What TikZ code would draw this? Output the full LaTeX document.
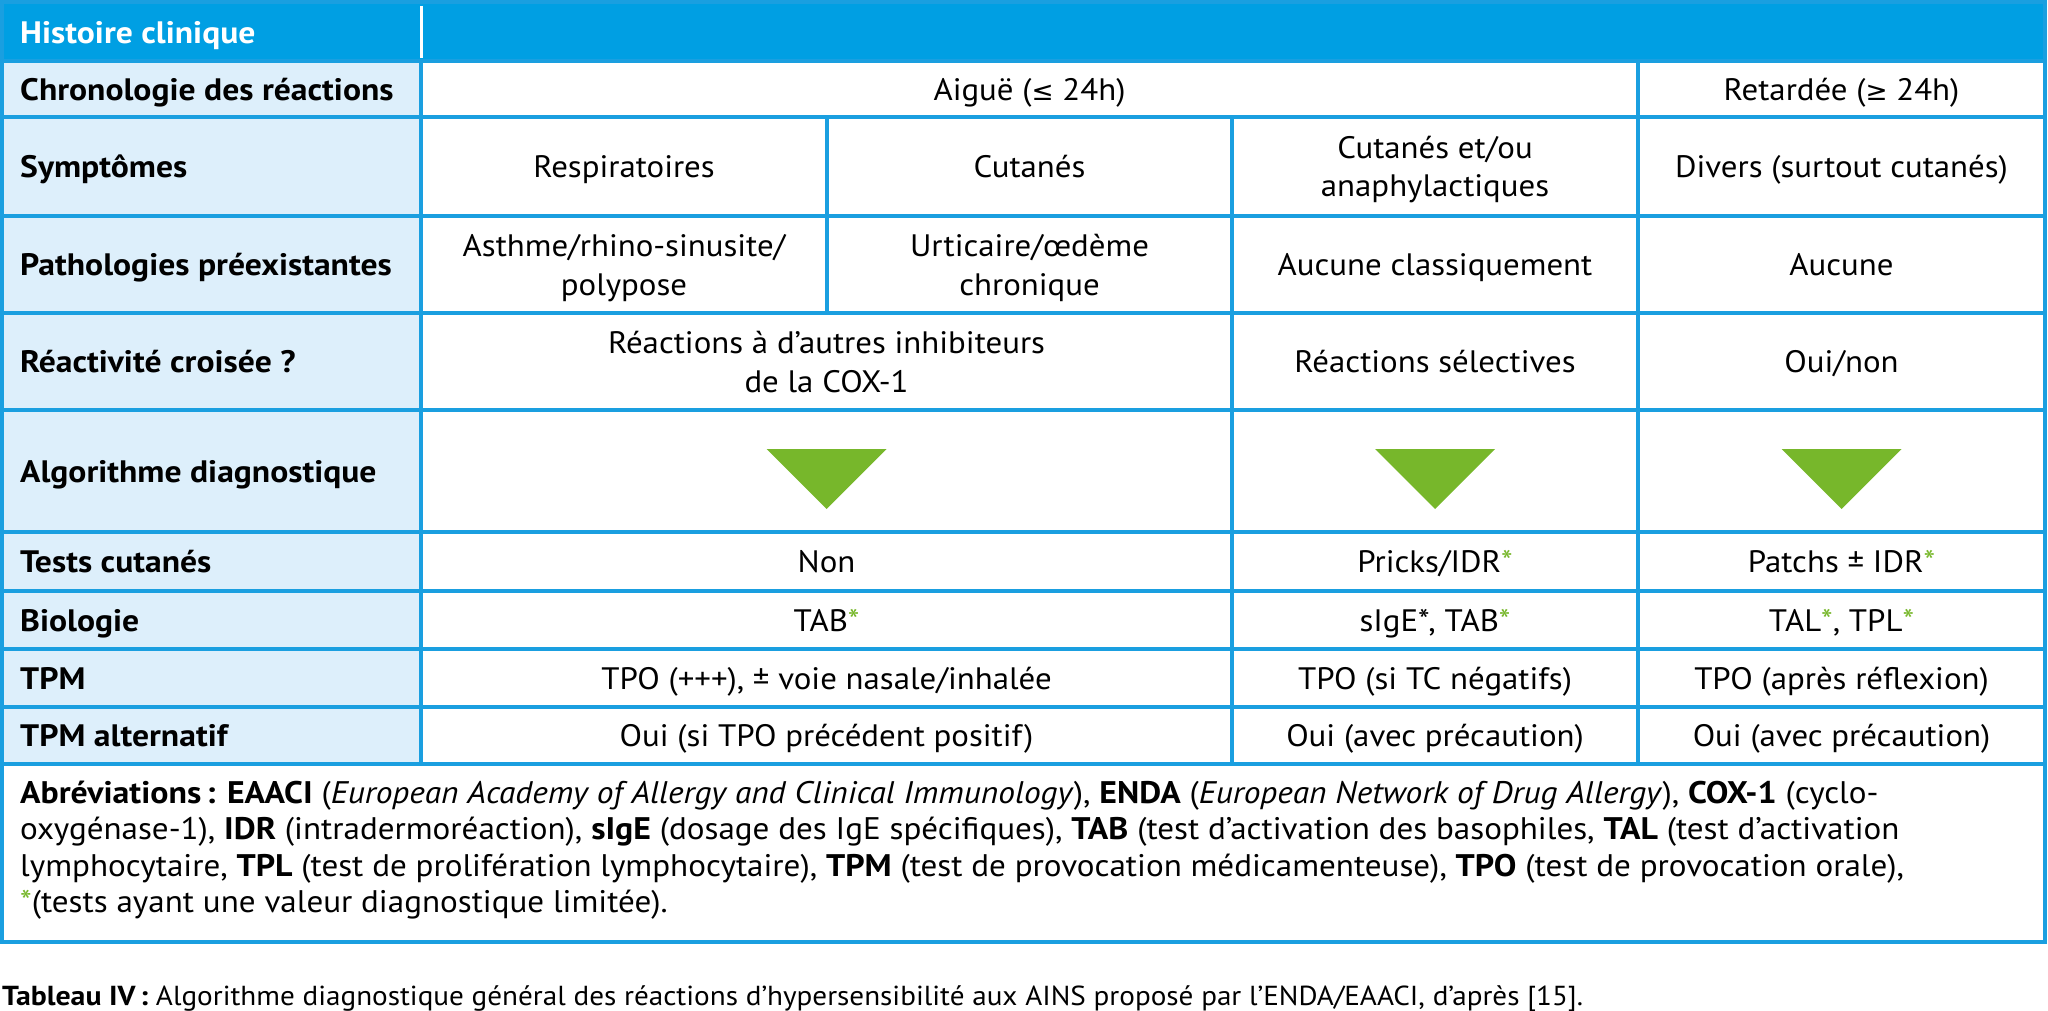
\documentclass[tikz,border=0pt]{standalone}
\usepackage{graphicx}
\usepackage{fontspec}
\setmainfont{PT Sans}[UprightFeatures={FakeStretch=1.06}, ItalicFeatures={FakeStretch=1.07}, BoldFeatures={FakeStretch=1.085}]
\newfontfamily\symf{DejaVu Sans}[Scale=0.85]
\definecolor{hdr}{HTML}{009FE3}
\definecolor{lbl}{HTML}{DDEFFB}
\definecolor{gridc}{HTML}{1A9FE0}
\definecolor{grn}{HTML}{77B72B}
\newcommand\mystrut{\rule[-8pt]{0pt}{38pt}}
\newcommand\gs{\textcolor{grn}{*}}
\tikzset{
  cell/.style={align=center, inner sep=0pt, anchor=center, font=\fontsize{31}{39}\selectfont},
  lab/.style={anchor=west, inner sep=0pt, font=\fontsize{31}{39}\selectfont\bfseries},
  gline/.style={draw=gridc, line width=3.5pt},
  tri/.style={fill=grn},
  abbr/.style={anchor=base west, inner sep=0pt, font=\fontsize{31.2}{36}\selectfont},
}
\begin{document}
\begin{tikzpicture}[x=1pt,y=-1pt]
\useasboundingbox (0,0) rectangle (2048,1011);
% column and row positions
\def\La{2}\def\Lb{421}\def\Lc{827}\def\Ld{1232}\def\Le{1638}\def\Rr{2045}
% fills
\fill[lbl] (\La,61) rectangle (\Lb,764);
\fill[hdr] (\La,2) rectangle (\Rr,61);
% header separator
\draw[white, line width=3pt] (\Lb,6) -- (\Lb,58);
% horizontal lines
\foreach \yy in {61,117,216,313,410,532,591,649,707,764}
  \draw[gline] (\La,\yy) -- (\Rr,\yy);
% vertical lines
\draw[gline] (\Lb,61) -- (\Lb,764);
\draw[gline] (\Lc,117) -- (\Lc,313);
\draw[gline] (\Ld,117) -- (\Ld,764);
\draw[gline] (\Le,61) -- (\Le,764);
% outer border
\draw[gline] (\La,2) rectangle (\Rr,942);
% header text
\node[lab, text=white] (hist) at (20,33) {\mystrut Histoire clinique};
% labels
\node[lab] (l1) at (20,89.5) {\mystrut Chronologie des réactions};
\node[lab] (l2) at (20,166.5) {\mystrut Symptômes};
\node[lab] (l3) at (20,264.5) {\mystrut Pathologies préexistantes};
\node[lab] (l4) at (20,361.5) {\mystrut Réactivité croisée ?};
\node[lab] (l5) at (20,471) {\mystrut Algorithme diagnostique};
\node[lab] (l6) at (20,561.5) {\mystrut Tests cutanés};
\node[lab] (l7) at (20,620) {\mystrut Biologie};
\node[lab] (l8) at (20,678) {\mystrut TPM};
\node[lab] (l9) at (20,735.5) {\mystrut TPM alternatif};
% row 1
\node[cell] (c11) at (1029.5,89.5) {\mystrut Aiguë ({\symf ≤} 24h)};
\node[cell] (c12) at (1841.5,89.5) {\mystrut Retardée ({\symf ≥} 24h)};
% row 2
\node[cell] (c21) at (624,166.5) {\mystrut Respiratoires};
\node[cell] (c22) at (1029.5,166.5) {\mystrut Cutanés};
\node[cell] (c23) at (1435,166.5) {\mystrut Cutanés et/ou\\\mystrut anaphylactiques};
\node[cell] (c24) at (1841.5,166.5) {\mystrut Divers (surtout cutanés)};
% row 3
\node[cell] (c31) at (624,264.5) {\mystrut Asthme/rhino-sinusite/\\\mystrut polypose};
\node[cell] (c32) at (1029.5,264.5) {\mystrut Urticaire/œdème\\\mystrut chronique};
\node[cell] (c33) at (1435,264.5) {\mystrut Aucune classiquement};
\node[cell] (c34) at (1841.5,264.5) {\mystrut Aucune};
% row 4
\node[cell] (c41) at (826.5,361.5) {\mystrut Réactions à d’autres inhibiteurs\\\mystrut de la COX-1};
\node[cell] (c42) at (1435,361.5) {\mystrut Réactions sélectives};
\node[cell] (c43) at (1841.5,361.5) {\mystrut Oui/non};
% triangles
\fill[tri] (766.5,449) -- (886.5,449) -- (826.5,509) -- cycle;
\fill[tri] (1375,449) -- (1495,449) -- (1435,509) -- cycle;
\fill[tri] (1781.5,449) -- (1901.5,449) -- (1841.5,509) -- cycle;
% row 6
\node[cell] (c61) at (826.5,561.5) {\mystrut Non};
\node[cell] (c62) at (1435,561.5) {\mystrut Pricks/IDR\gs};
\node[cell] (c63) at (1841.5,561.5) {\mystrut Patchs ± IDR\gs};
% row 7
\node[cell] (c71) at (826.5,620) {\mystrut TAB\gs};
\node[cell] (c72) at (1435,620) {\mystrut sIgE*, TAB\gs};
\node[cell] (c73) at (1841.5,620) {\mystrut TAL\gs, TPL\gs};
% row 8
\node[cell] (c81) at (826.5,678) {\mystrut TPO (+++), ± voie nasale/inhalée};
\node[cell] (c82) at (1435,678) {\mystrut TPO (si TC négatifs)};
\node[cell] (c83) at (1841.5,678) {\mystrut TPO (après réflexion)};
% row 9
\node[cell] (c91) at (826.5,735.5) {\mystrut Oui (si TPO précédent positif)};
\node[cell] (c92) at (1435,735.5) {\mystrut Oui (avec précaution)};
\node[cell] (c93) at (1841.5,735.5) {\mystrut Oui (avec précaution)};
% abbreviations
\node[abbr] (a1) at (20,803) {\textbf{Abréviations\,: EAACI} (\textit{European Academy of Allergy and Clinical Immunology}), \textbf{ENDA} (\textit{European Network of Drug Allergy}), \textbf{COX-1} (cyclo-};
\node[abbr] (a2) at (20,839.5) {oxygénase-1), \textbf{IDR} (intradermoréaction), \textbf{sIgE} (dosage des IgE spécifiques), \textbf{TAB} (test d’activation des basophiles, \textbf{TAL} (test d’activation};
\node[abbr] (a3) at (20,876) {lymphocytaire, \textbf{TPL} (test de prolifération lymphocytaire), \textbf{TPM} (test de provocation médicamenteuse), \textbf{TPO} (test de provocation orale),};
\node[abbr] (a4) at (20,912.5) {\gs(tests ayant une valeur diagnostique limitée).};
% caption
\node[abbr, font=\fontsize{27.5}{34}\selectfont] (cap) at (2,1005) {\textbf{Tableau IV\,:} Algorithme diagnostique général des réactions d’hypersensibilité aux AINS proposé par l’ENDA/EAACI, d’après [15].};
\end{tikzpicture}
\end{document}
